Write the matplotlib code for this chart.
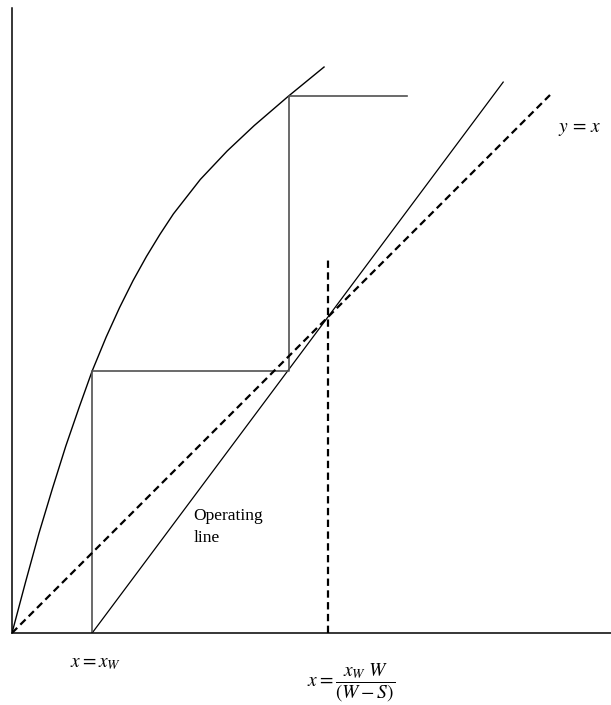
import matplotlib.pyplot as plt

plt.rcParams['mathtext.fontset'] = 'stix'
plt.rcParams['font.family'] = ['Liberation Serif', 'DejaVu Serif']

# equilibrium curve y*(x)
eq_x = [0.0, 0.025, 0.05, 0.075, 0.10, 0.125, 0.149, 0.175, 0.20, 0.225,
        0.25, 0.275, 0.30, 0.35, 0.40, 0.45, 0.514, 0.58]
eq_y = [0.0, 0.094, 0.185, 0.268, 0.3475, 0.420, 0.487, 0.550, 0.605, 0.655,
        0.700, 0.741, 0.779, 0.843, 0.896, 0.943, 0.998, 1.052]

# operating line, starts at x = x_w on the axis
x_w = 0.149
op_x = [x_w, 0.913]
op_y = [0.0, 1.024]

# stage construction between operating line and equilibrium curve
step_x = [x_w, x_w, 0.514, 0.514, 0.734]
step_y = [0.0, 0.487, 0.487, 0.998, 0.998]

# diagonal y = x and the intersection with the operating line
diag = [0.0, 1.0]
x_int = 0.587
vline_y = [0.0, 0.699]

fig = plt.figure(figsize=(6.11, 7.05), dpi=100)
ax = fig.add_axes([12 / 611, 72 / 705, 599 / 611, 625 / 705])
ax.set_xlim(0, 599 / 538)
ax.set_ylim(0, 625 / 538)

dash = (0, (3.3, 2.0))
ax.plot(eq_x, eq_y, color='black', lw=1.0, solid_joinstyle='round')
ax.plot(op_x, op_y, color='black', lw=0.9)
ax.plot(step_x, step_y, color='#505050', lw=1.2)
ax.plot(diag, diag, color='black', lw=1.6, linestyle=dash)
ax.plot([x_int, x_int], vline_y, color='black', lw=1.6, linestyle=dash)

for side in ['top', 'right']:
    ax.spines[side].set_visible(False)
for side in ['left', 'bottom']:
    ax.spines[side].set_linewidth(1.1)
ax.set_xticks([])
ax.set_yticks([])

ax.text(1.055, 0.935, r'$y\,=\,x$', fontsize=14, ha='center', va='center')
ax.text(0.337, 0.197, 'Operating\nline', fontsize=12.5, ha='left', va='center',
        linespacing=1.5)
ax.text(0.155, -0.057, r'$x = x_W$', fontsize=14, ha='center', va='center',
        clip_on=False)
ax.text(0.63, -0.092, r'$x = \dfrac{x_W\ W}{(W - S)}$', fontsize=14,
        ha='center', va='center', clip_on=False)

fig.savefig('out.png', dpi=100)
